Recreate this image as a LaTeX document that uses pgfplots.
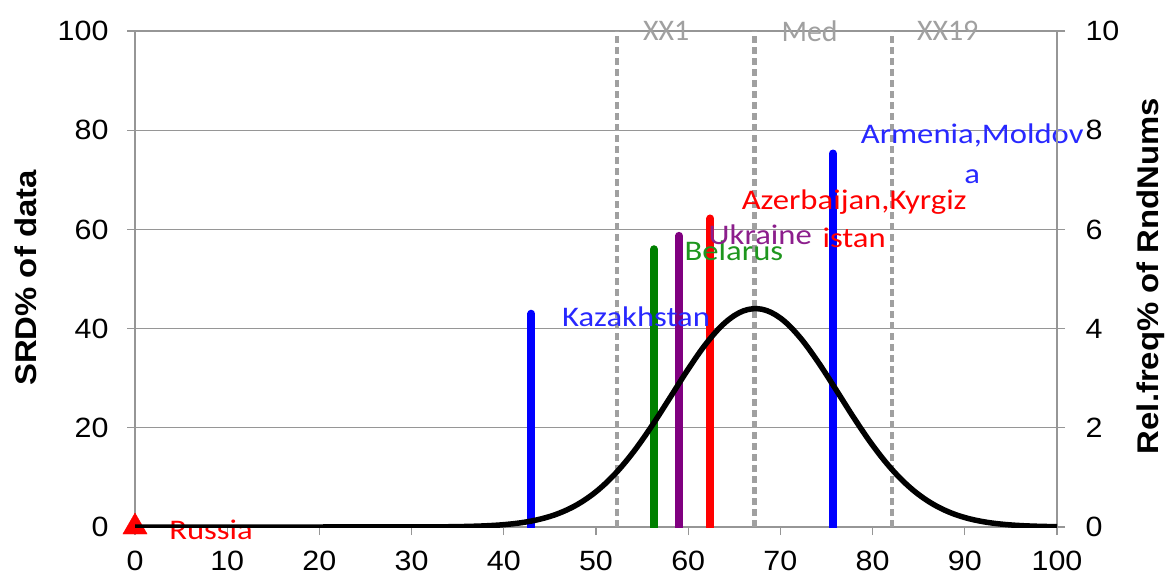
\documentclass[border=0pt]{standalone}
\usepackage{fontspec}
\setmainfont{Liberation Sans}
\newfontfamily\tickfont{Liberation Sans}[FakeStretch=1.09]
\newfontfamily\labfont{Liberation Sans}[FakeStretch=1.1]
\newfontfamily\calfont{Carlito}[FakeStretch=1.15]
\newfontfamily\graycal{Carlito}
\usepackage{pgfplots}
\pgfplotsset{compat=1.18}
\definecolor{axgray}{RGB}{150,150,150}
\definecolor{dashgray}{RGB}{160,160,160}
\definecolor{cblue}{RGB}{0,0,255}
\definecolor{cgreen}{RGB}{0,128,0}
\definecolor{cpurple}{RGB}{128,0,128}
\definecolor{cred}{RGB}{255,0,0}
\definecolor{tblue}{RGB}{40,40,255}
\definecolor{tgreen}{RGB}{30,150,30}
\definecolor{tpurple}{RGB}{140,30,140}
\pgfplotstableread{
x y
0 0
10 0
20 0
30 0.0009
32 0.0022
34 0.0051
36 0.0113
38 0.0236
40 0.047
42 0.0893
44 0.1614
46 0.2777
48 0.4555
50 0.7112
52 1.058
54 1.499
56 2.023
58 2.600
60 3.183
62 3.711
64 4.120
66 4.358
68 4.390
70 4.212
72 3.849
74 3.350
76 2.777
78 2.192
80 1.648
82 1.181
84 0.8053
86 0.5233
88 0.3238
90 0.1908
92 0.1071
94 0.0573
96 0.0292
98 0.0141
100 0.0065
}\curvedata
\begin{document}
\begin{tikzpicture}
\begin{axis}[
  name=ax,
  scale only axis, width=922bp, height=496bp,
  xmin=0, xmax=100, ymin=0, ymax=100,
  clip mode=individual,
  xtick={0,10,...,100}, ytick={0,20,...,100},
  xtick pos=lower, ytick pos=left,
  tick align=outside, major tick length=8bp,
  tick style={axgray, line width=1.2bp},
  axis line style={axgray, line width=1.5bp},
  ymajorgrids, grid style={axgray, line width=1bp},
  /pgf/number format/assume math mode=true,
  tick label style={font=\fontsize{28}{32}\tickfont, text=black},
  xticklabel style={yshift=-13bp},
  yticklabel style={xshift=-15bp},
  ylabel={SRD\% of data},
  ylabel style={font=\fontsize{30}{34}\labfont\bfseries, at={(axis description cs:-0.118,0.502)}, anchor=center, rotate=0},
]
\addplot[dashgray, line width=4.5bp, dash pattern=on 7bp off 4bp] coordinates {(52.3,0) (52.3,100)};
\addplot[dashgray, line width=4.5bp, dash pattern=on 7bp off 4bp] coordinates {(67.2,0) (67.2,100)};
\addplot[dashgray, line width=4.5bp, dash pattern=on 7bp off 4bp] coordinates {(82.1,0) (82.1,100)};
\addplot[cblue, line width=8bp, line cap=round] coordinates {(43,-2) (43,43)};
\addplot[cgreen, line width=8bp, line cap=round] coordinates {(56.3,-2) (56.3,56)};
\addplot[cpurple, line width=8bp, line cap=round] coordinates {(59,-2) (59,58.7)};
\addplot[cred, line width=8bp, line cap=round] coordinates {(62.4,-2) (62.4,62.2)};
\addplot[cblue, line width=8bp, line cap=round] coordinates {(75.7,-2) (75.7,75.3)};
\node[anchor=west, inner sep=0, text=dashgray, font=\fontsize{30}{36}\graycal] at (axis cs:55.1,100) {XX1};
\node[anchor=west, inner sep=0, text=dashgray, font=\fontsize{30}{36}\graycal] at (axis cs:70.1,100) {Med};
\node[anchor=west, inner sep=0, text=dashgray, font=\fontsize{30}{36}\graycal] at (axis cs:84.8,100) {XX19};
\node[anchor=west, inner sep=0, text=tblue, font=\fontsize{28.5}{36}\calfont] at (axis cs:46.3,42.4) {Kazakhstan};
\node[anchor=west, inner sep=0, text=tgreen, font=\fontsize{28.5}{36}\calfont] at (axis cs:59.6,55.7) {Belarus};
\node[anchor=west, inner sep=0, text=tpurple, font=\fontsize{28.5}{36}\calfont] at (axis cs:62.2,58.9) {Ukraine};
\node[anchor=center, inner sep=0, align=center, text=cred, font=\fontsize{28.5}{38}\calfont] at (axis cs:78.0,62.2) {Azerbaijan,Kyrgiz\\istan};
\node[anchor=center, inner sep=0, align=center, text=tblue, font=\fontsize{28.5}{40}\calfont] at (axis cs:90.8,75.3) {Armenia,Moldov\\a};
\node[anchor=west, inner sep=0, text=cred, font=\fontsize{28.5}{36}\calfont] at (axis cs:3.7,-0.6) {Russia};
\addplot[only marks, mark=triangle*, mark size=14bp, cred] coordinates {(0,0)};
\end{axis}
\begin{axis}[
  scale only axis, width=922bp, height=496bp,
  xmin=0, xmax=100, ymin=0, ymax=10,
  axis x line=none, axis y line*=right,
  ytick={0,2,...,10},
  tick align=outside, major tick length=8bp,
  tick style={axgray, line width=1.2bp},
  axis line style={axgray, line width=1.5bp},
  /pgf/number format/assume math mode=true,
  tick label style={font=\fontsize{28}{32}\tickfont, text=black},
  yticklabel style={xshift=17bp},
  ylabel={Rel.freq\% of RndNums},
  ylabel style={font=\fontsize{30}{34}\labfont\bfseries, at={(axis description cs:1.102,0.506)}, anchor=center, rotate=0},
]
\addplot[black, line width=5.5bp, smooth, tension=0.6] table[x=x, y=y] {\curvedata};
\end{axis}
\pgfresetboundingbox
\path[use as bounding box] ([shift={(-135bp,-54bp)}]ax.south west) rectangle ([shift={(112bp,31bp)}]ax.north east);
\end{tikzpicture}
\end{document}
